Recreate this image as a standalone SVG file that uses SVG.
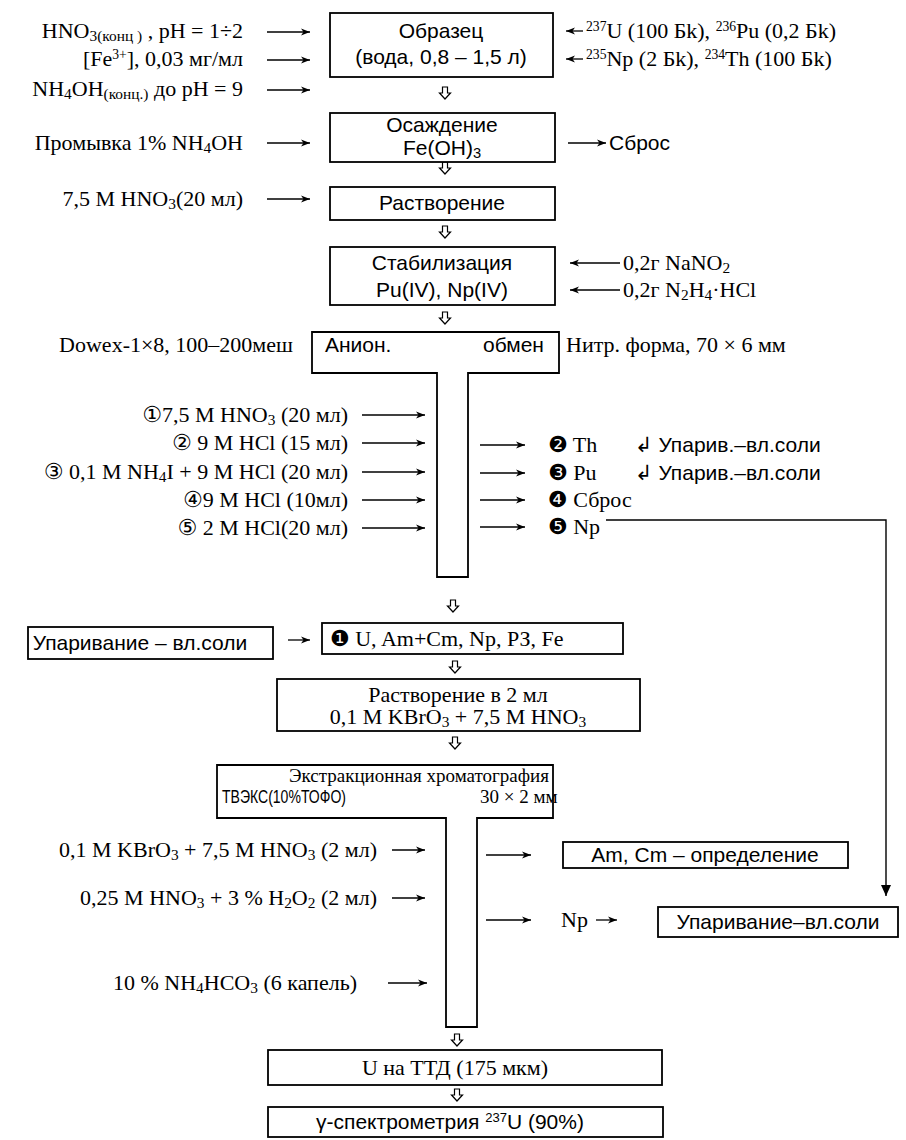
<svg xmlns="http://www.w3.org/2000/svg" width="906" height="1140" viewBox="0 0 906 1140">
<style>
text{font-family:"Liberation Serif","DejaVu Serif","DejaVu Sans",serif;font-size:22px;fill:#000}
.s{font-family:"Liberation Sans","DejaVu Sans",sans-serif;font-size:21px}
.m{text-anchor:middle}
.e{text-anchor:end}
.sub{font-size:70%;baseline-shift:-3px}
.sup{font-size:62%;baseline-shift:7px}
.box{fill:#fff;stroke:#000;stroke-width:1.8}
.ln{fill:none;stroke:#000;stroke-width:1.4}
.ar{fill:none;stroke:#000;stroke-width:1.3;marker-end:url(#ah)}
.dn{fill:#fff;stroke:#000;stroke-width:1.2}
</style>
<defs>
<marker id="ah" markerWidth="10" markerHeight="8" refX="9" refY="4" orient="auto" markerUnits="userSpaceOnUse">
<path d="M0,0.5 L9,4 L0,7.5 L2.5,4 z" fill="#000"/>
</marker>
<marker id="ahb" markerWidth="12" markerHeight="12" refX="6" refY="11" orient="0" markerUnits="userSpaceOnUse">
<path d="M1,0 L11,0 L6,11 z" fill="#000"/>
</marker>
<path id="dn" d="M-2.5,-6 L2.5,-6 L2.5,0 L5.5,0 L0,6 L-5.5,0 L-2.5,0 z"/>
</defs>

<g id="connectors">
<line class="ar" x1="267" y1="32" x2="310" y2="32"/>
<line class="ar" x1="267" y1="60" x2="310" y2="60"/>
<line class="ar" x1="267" y1="90" x2="310" y2="90"/>
<line class="ar" x1="583" y1="31" x2="566" y2="31"/>
<line class="ar" x1="583" y1="59" x2="566" y2="59"/>
<line class="ar" x1="267" y1="143" x2="310" y2="143"/>
<line class="ar" x1="568" y1="143" x2="606" y2="143"/>
<line class="ar" x1="267" y1="199" x2="310" y2="199"/>
<line class="ar" x1="620" y1="263" x2="570" y2="263"/>
<line class="ar" x1="620" y1="290" x2="570" y2="290"/>
<line class="ar" x1="362" y1="415" x2="425" y2="415"/>
<line class="ar" x1="362" y1="443" x2="425" y2="443"/>
<line class="ar" x1="362" y1="472" x2="425" y2="472"/>
<line class="ar" x1="362" y1="500" x2="425" y2="500"/>
<line class="ar" x1="362" y1="528" x2="425" y2="528"/>
<line class="ar" x1="480" y1="445" x2="525" y2="445"/>
<line class="ar" x1="480" y1="473" x2="525" y2="473"/>
<line class="ar" x1="480" y1="500" x2="525" y2="500"/>
<line class="ar" x1="480" y1="527" x2="525" y2="527"/>
<polyline class="ln" points="606,520 886,520 886,896" marker-end="url(#ahb)"/>
<line class="ar" x1="288" y1="640" x2="310" y2="640"/>
<line class="ar" x1="392" y1="850" x2="425" y2="850"/>
<line class="ar" x1="392" y1="898" x2="425" y2="898"/>
<line class="ar" x1="388" y1="983" x2="427" y2="983"/>
<line class="ar" x1="486" y1="855" x2="531" y2="855"/>
<line class="ar" x1="486" y1="920" x2="531" y2="920"/>
<line class="ar" x1="596" y1="920" x2="617" y2="920"/>
<use href="#dn" class="dn" x="445" y="93"/>
<use href="#dn" class="dn" x="445" y="168"/>
<use href="#dn" class="dn" x="445" y="232"/>
<use href="#dn" class="dn" x="445" y="318"/>
<use href="#dn" class="dn" x="453" y="606"/>
<use href="#dn" class="dn" x="455" y="667"/>
<use href="#dn" class="dn" x="455" y="743"/>
<use href="#dn" class="dn" x="457" y="1040"/>
<use href="#dn" class="dn" x="457" y="1095"/>
</g>

<g id="labels">
<text class="e" x="243" y="38">HNO<tspan class="sub">3(конц )</tspan> , pH = 1÷2</text>
<text class="e" x="243" y="66">[Fe<tspan class="sup">3+</tspan>], 0,03 мг/мл</text>
<text class="e" x="243" y="96">NH<tspan class="sub">4</tspan>OH<tspan class="sub">(конц.)</tspan> до  pH = 9</text>
<text x="586" y="38"><tspan class="sup">237</tspan>U (100 Бk), <tspan class="sup">236</tspan>Pu (0,2 Бk)</text>
<text x="586" y="66"><tspan class="sup">235</tspan>Np (2 Бk), <tspan class="sup">234</tspan>Th (100 Бk)</text>
<text class="e" x="243" y="150">Промывка 1% NH<tspan class="sub">4</tspan>OH</text>
<text class="s" x="609" y="150">Сброс</text>
<text class="e" x="243" y="206">7,5 M HNO<tspan class="sub">3</tspan>(20 мл)</text>
<text x="623" y="270">0,2г  NaNO<tspan class="sub">2</tspan></text>
<text x="623" y="297">0,2г  N<tspan class="sub">2</tspan>H<tspan class="sub">4</tspan>·HCl</text>
<text class="e" x="293" y="352">Dowex-1×8, 100–200меш</text>
<text x="566" y="352">Нитр. форма, 70 × 6 мм</text>
<text class="e" x="348" y="422">①7,5 M HNO<tspan class="sub">3</tspan> (20 мл)</text>
<text class="e" x="348" y="450">② 9 M HCl (15 мл)</text>
<text class="e" x="348" y="479">③ 0,1 M NH<tspan class="sub">4</tspan>I + 9 M HCl (20 мл)</text>
<text class="e" x="348" y="507">④9 M HCl (10мл)</text>
<text class="e" x="348" y="535">⑤ 2 M HCl(20 мл)</text>
<text x="548" y="452">❷ Th</text>
<text x="548" y="480">❸ Pu</text>
<text x="548" y="507">❹ Сброс</text>
<text x="548" y="534">❺ Np</text>
<text class="s" x="635" y="452">↲ Упарив.–вл.соли</text>
<text class="s" x="635" y="480">↲ Упарив.–вл.соли</text>
<text class="e" x="377" y="857">0,1 M KBrO<tspan class="sub">3</tspan> + 7,5 M HNO<tspan class="sub">3</tspan> (2 мл)</text>
<text class="e" x="377" y="905">0,25 M HNO<tspan class="sub">3</tspan> + 3 % H<tspan class="sub">2</tspan>O<tspan class="sub">2</tspan> (2 мл)</text>
<text class="e" x="357" y="990">10 % NH<tspan class="sub">4</tspan>HCO<tspan class="sub">3</tspan> (6 капель)</text>
<text x="561" y="927">Np</text>
</g>

<g id="n-sample">
<rect class="box" x="330" y="13" width="223" height="64"/>
<text class="s m" x="441" y="38">Образец</text>
<text class="s m" x="441" y="64">(вода, 0,8 – 1,5 л)</text>
</g>
<g id="n-precip">
<rect class="box" x="330" y="113" width="225" height="49"/>
<text class="s m" x="442" y="132">Осаждение</text>
<text class="s m" x="442" y="155">Fe(OH)<tspan class="sub">3</tspan></text>
</g>
<g id="n-dissolve">
<rect class="box" x="330" y="187" width="225" height="33"/>
<text class="s m" x="442" y="210">Растворение</text>
</g>
<g id="n-stab">
<rect class="box" x="330" y="247" width="225" height="58"/>
<text class="s m" x="442" y="270">Стабилизация</text>
<text class="s m" x="442" y="297">Pu(IV), Np(IV)</text>
</g>
<g id="n-anion">
<path class="box" d="M312,332 H559 V373 H468 V577 H437 V373 H312 Z"/>
<text class="s" x="325" y="352">Анион.</text>
<text class="s" x="483" y="352">обмен</text>
</g>
<g id="n-evap1">
<rect class="box" x="28" y="627" width="245" height="32"/>
<text class="s m" x="140" y="650">Упаривание – вл.соли</text>
</g>
<g id="n-fraction1">
<rect class="box" x="322" y="623" width="301" height="31"/>
<text x="330" y="646">❶ U, Am+Cm, Np, РЗ, Fe</text>
</g>
<g id="n-dissolve2">
<rect class="box" x="277" y="679" width="363" height="52"/>
<text class="m" x="458" y="702">Растворение в 2 мл</text>
<text class="m" x="458" y="724">0,1 M KBrO<tspan class="sub">3</tspan> + 7,5 M HNO<tspan class="sub">3</tspan></text>
</g>
<g id="n-extract">
<path class="box" d="M217,765 H553 V818 H477 V1027 H446 V818 H217 Z"/>
<text class="m" x="419" y="782" style="font-size:19px">Экстракционная хроматография</text>
<text class="s" x="222" y="803" style="font-size:19px" textLength="124" lengthAdjust="spacingAndGlyphs">ТВЭКС(10%ТОФО)</text>
<text x="480" y="803" style="font-size:19px">30 × 2 мм</text>
</g>
<g id="n-amcm">
<rect class="box" x="563" y="842" width="285" height="26"/>
<text class="s m" x="705" y="862">Am, Cm – определение</text>
</g>
<g id="n-evap2">
<rect class="box" x="658" y="907" width="240" height="30"/>
<text class="s m" x="778" y="929">Упаривание–вл.соли</text>
</g>
<g id="n-ttd">
<rect class="box" x="268" y="1050" width="394" height="35"/>
<text class="m" x="455" y="1075">U на ТТД (175 мкм)</text>
</g>
<g id="n-gamma">
<rect class="box" x="268" y="1107" width="395" height="30"/>
<text class="s m" x="450" y="1129">γ-спектрометрия <tspan class="sup">237</tspan>U (90%)</text>
</g>
</svg>
